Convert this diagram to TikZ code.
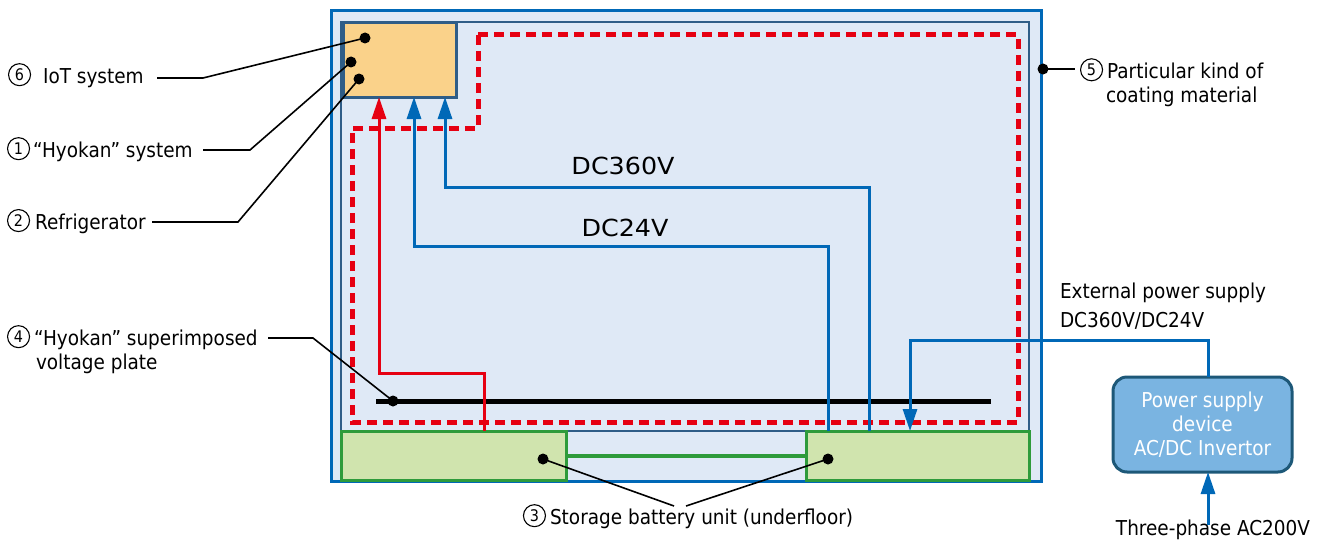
\documentclass[tikz,border=0pt]{standalone}
\usepackage{fontspec}
\setmainfont{DejaVu Sans}[FakeStretch=0.9]
\newfontfamily\dcfont{DejaVu Sans}[FakeStretch=1.08]
\usetikzlibrary{arrows.meta}
\definecolor{cblue}{HTML}{0068B7}
\definecolor{cfill}{HTML}{DFE9F6}
\definecolor{csteel}{HTML}{2F5D87}
\definecolor{cred}{HTML}{E60012}
\definecolor{cgreen}{HTML}{2E9B3B}
\definecolor{cgfill}{HTML}{D0E4AE}
\definecolor{corange}{HTML}{FAD28A}
\definecolor{cpsfill}{HTML}{7AB4E1}
\definecolor{cpsdraw}{HTML}{1D5878}
\newcommand{\circnum}[1]{\tikz[baseline={([yshift=-2.5pt]cn.base)}]\node (cn) [circle, draw, line width=1.1pt, minimum size=22pt, inner sep=0pt, font=\fontsize{16pt}{16pt}\selectfont] {#1};}
\begin{document}
\begin{tikzpicture}[x=1pt,y=-1pt,
  every node/.style={font=\fontsize{20.5pt}{24pt}\selectfont, inner sep=0pt, outer sep=0pt},
  dot/.style={circle, fill=black, minimum size=11pt, inner sep=0pt},
  leader/.style={draw=black, line width=1.6pt},
  battery/.style={draw=cgreen, fill=cgfill, line width=3pt, anchor=north west, minimum height=49pt},
  bluearrow/.style={draw=cblue, line width=3pt, -{Triangle[length=22pt,width=14pt]}},
  redarrow/.style={draw=cred, line width=3pt, -{Triangle[length=22pt,width=14pt]}},
  lbl/.style={anchor=base west, align=left},
  dclbl/.style={font=\dcfont\fontsize{23.5pt}{26pt}\selectfont}
]
\useasboundingbox (0,0) rectangle (1322,543);
% frames
\node (outer) [draw=cblue, fill=cfill, line width=3pt, anchor=north west, minimum width=710pt, minimum height=470pt] at (331,11) {};
\node (inner) [draw=csteel, fill=cfill, line width=2.5pt, anchor=north west, minimum width=688pt, minimum height=409pt] at (341,22) {};
% red dashed boundary
\draw[cred, line width=5pt, dash pattern=on 10pt off 6pt] (478,35) -- (1018,35) -- (1018,422) -- (352,422) -- (352,128) -- (478,128) -- cycle;
% IoT box
\node (iot) [draw=csteel, fill=corange, line width=3pt, anchor=north west, minimum width=113pt, minimum height=74pt] at (343,23) {};
% plate
\coordinate (p1) at (376,401);
\coordinate (p2) at (991,401);
\draw[line width=5pt] (p1) -- (p2);
% batteries
\node (bl) [battery, minimum width=225pt] at (341,431) {};
\node (br) [battery, minimum width=223pt] at (806,431) {};
\draw[cgreen, line width=4pt] (bl.east) -- (br.west);
% power lines
\coordinate (r1) at (484,373); \coordinate (r2) at (379,373);
\draw[redarrow] (r1 |- bl.north) -- (r1) -- (r2) -- (r2 |- iot.south);
\coordinate (a1) at (828,246); \coordinate (a2) at (414,246);
\draw[bluearrow] (a1 |- bl.north) -- (a1) -- (a2) -- (a2 |- iot.south);
\coordinate (b1) at (869,187); \coordinate (b2) at (445,187);
\draw[bluearrow] (b1 |- bl.north) -- (b1) -- (b2) -- (b2 |- iot.south);
\node (dc360) [dclbl] at (623,166) {DC360V};
\node (dc24) [dclbl] at (625,228) {DC24V};
% power supply
\node (ps) [draw=cpsdraw, fill=cpsfill, line width=3pt, rounded corners=14pt, anchor=north west, minimum width=179pt, minimum height=95pt, align=center, text=white] at (1113,377) {Power supply\\device\\AC/DC Invertor};
\coordinate (e1) at (1208,340); \coordinate (e2) at (910,340);
\draw[bluearrow] (e1 |- ps.north) -- (e1) -- (e2) -- (e2 |- br.north);
\node (ext) [lbl, font=\fontsize{20.5pt}{29pt}\selectfont] at (1060,327) {External power supply\\DC360V/DC24V};
\node (tp) [anchor=base] at (1213,535) {Three-phase AC200V};
\draw[bluearrow] ([yshift=-6pt]e1 |- tp.north) -- (e1 |- ps.south);
% dots
\node (d6) [dot] at (365,38) {};
\node (d1) [dot] at (351,62) {};
\node (d2) [dot] at (359,79) {};
\node (d4) [dot] at (393,401) {};
\node (d5) [dot] at (1043,69) {};
\node (d3a) [dot] at (543,459) {};
\node (d3b) [dot] at (828,459) {};
% labels
\node (l6) [lbl] at (8,83) {\circnum{6}\hspace{12pt}IoT system};
\node (l1) [lbl] at (7,157) {\circnum{1}\hspace{3pt}“Hyokan” system};
\node (l2) [lbl] at (7,229) {\circnum{2}\hspace{5pt}Refrigerator};
\node (l4) [lbl] at (7,369) {\circnum{4}\hspace{4pt}“Hyokan” superimposed\\\hspace{29pt}voltage plate};
\node (l5) [lbl] at (1080,102) {\circnum{5}\hspace{4pt}Particular kind of\\\hspace{26pt}coating material};
\node (l3) [anchor=base] at (688,524) {\circnum{3}\hspace{4pt}Storage battery unit (underfloor)};
% leaders
\coordinate (c6a) at (157,78); \coordinate (c6b) at (203,78);
\coordinate (c1a) at (203,150); \coordinate (c1b) at (250,150);
\coordinate (c2a) at (152,222); \coordinate (c2b) at (238,222);
\coordinate (c4a) at (268,338); \coordinate (c4b) at (313,338);
\coordinate (c5) at (1075,69);
\coordinate (c3a) at (674,506); \coordinate (c3b) at (686,506);
\draw[leader] (c6a) -- (c6b) -- (d6.center);
\draw[leader] (c1a) -- (c1b) -- (d1.center);
\draw[leader] (c2a) -- (c2b) -- (d2.center);
\draw[leader] (c4a) -- (c4b) -- (d4.center);
\draw[leader, line width=2.5pt] (d5.center) -- (c5);
\draw[leader] (d3a.center) -- (c3a);
\draw[leader] (d3b.center) -- (c3b);
\end{tikzpicture}
\end{document}
